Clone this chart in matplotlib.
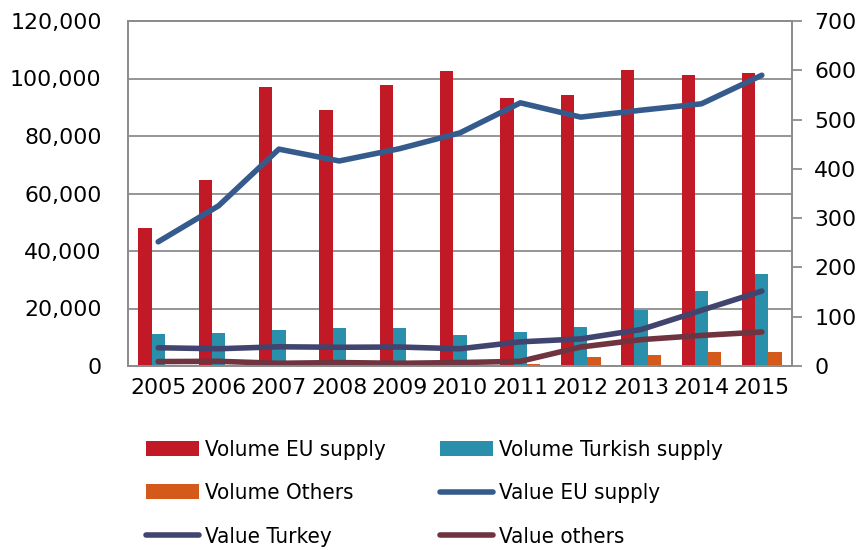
import matplotlib
matplotlib.use("Agg")
import matplotlib.pyplot as plt
import numpy as np

years = ["2005", "2006", "2007", "2008", "2009", "2010", "2011", "2012", "2013", "2014", "2015"]
vol_eu = [48100, 64600, 97000, 89000, 97600, 102500, 93100, 94100, 103000, 101300, 102000]
vol_tr = [11100, 11400, 12400, 13200, 13300, 10800, 11700, 13600, 19400, 26200, 31900]
vol_ot = [400, 300, 100, 100, 100, 100, 600, 3000, 3900, 4700, 5000]
val_eu = [252, 325, 440, 416, 441, 473, 534, 505, 519, 532, 590]
val_tr = [37, 35, 39, 38, 38.5, 35, 49, 55, 74, 113, 152]
val_ot = [9, 9.5, 5.5, 7, 5.5, 7, 9.5, 38.5, 53.5, 62, 69]

c_eu = "#C11A26"
c_tr = "#2A8FAA"
c_ot = "#D45A1B"
c_veu = "#355A8C"
c_vtr = "#41446E"
c_vot = "#6F3440"
grid = "#8C8C8C"

plt.rcParams['font.family'] = ['DejaVu Sans']

fig = plt.figure(figsize=(8.62, 5.5), dpi=100)
ax = fig.add_axes([128/862, 1-366/550, (792-128)/862, (366-21)/550])
ax2 = ax.twinx()

x = np.arange(len(years))
w = 0.22
b1 = ax.bar(x - w, vol_eu, w, color=c_eu, label="Volume EU supply", zorder=2)
b2 = ax.bar(x, vol_tr, w, color=c_tr, label="Volume Turkish supply", zorder=2)
b3 = ax.bar(x + w, vol_ot, w, color=c_ot, label="Volume Others", zorder=2)

l1, = ax2.plot(x, val_eu, color=c_veu, lw=4, solid_capstyle='round', label="Value EU supply")
l2, = ax2.plot(x, val_tr, color=c_vtr, lw=4, solid_capstyle='round', label="Value Turkey")
l3, = ax2.plot(x, val_ot, color=c_vot, lw=4, solid_capstyle='round', label="Value others")

ax.set_xlim(-0.5, len(years) - 0.5)
ax.set_ylim(0, 120000)
ax.set_yticks(np.arange(0, 120001, 20000))
ax.set_yticklabels([f"{v:,}" for v in range(0, 120001, 20000)])
ax2.set_ylim(0, 700)
ax2.set_yticks(np.arange(0, 701, 100))
ax.set_xticks(x)
ax.set_xticklabels(years)

ax.yaxis.grid(True, color=grid, lw=1.3, zorder=0)
ax.set_axisbelow(True)
for a in (ax, ax2):
    for s in a.spines.values():
        s.set_color(grid)
        s.set_linewidth(1.3)
ax.tick_params(axis='y', length=0, labelsize=15.8, pad=19)
ax.tick_params(axis='x', length=0, labelsize=15.8, pad=9)
ax2.tick_params(axis='y', length=7, color=grid, width=1.3, labelsize=15.8, pad=9)

prop = {'family': 'DejaVu Sans', 'stretch': 'condensed', 'size': 16}
common = dict(loc='upper left', frameon=False, handlelength=2.4, handleheight=0.65,
              labelspacing=1.05, handletextpad=0.25, borderpad=0, borderaxespad=0, prop=prop)
leg1 = fig.legend([b1, b3, l2], ["Volume EU supply", "Volume Others", "Value Turkey"],
                  bbox_to_anchor=(146/862, 1-440/550), **common)
leg2 = fig.legend([b2, l1, l3], ["Volume Turkish supply", "Value EU supply", "Value others"],
                  bbox_to_anchor=(440/862, 1-440/550), **common)

fig.savefig("out.png", dpi=100)
